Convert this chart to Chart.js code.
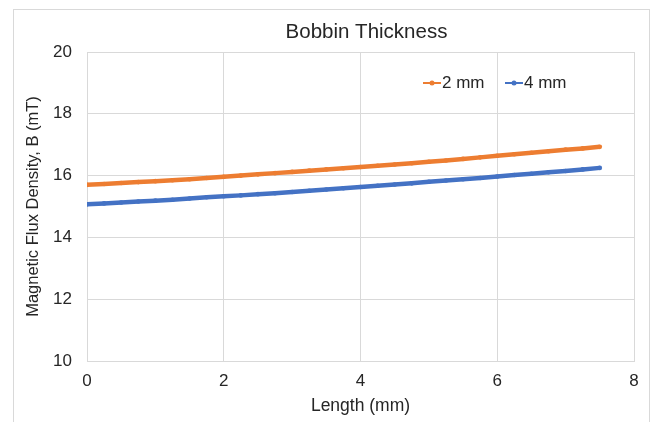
<!DOCTYPE html>
<html>
<head>
<meta charset="utf-8">
<script src="https://cdn.jsdelivr.net/npm/chart.js@4/dist/chart.umd.min.js"></script>
<style>
  html, body { margin: 0; padding: 0; background: #fff; }
  #wrap { width: 653px; height: 422px; position: relative; }
</style>
</head>
<body>
<div id="wrap"><canvas id="c" width="653" height="422"></canvas></div>
<script>
const chartTitle = "Bobbin Thickness";
const xTitle = "Length (mm)";
const yTitle = "Magnetic Flux Density, B (mT)";
const seriesNames = ["2 mm", "4 mm"];
const seriesColors = ["#ED7D31", "#4472C4"];
const lengths = [0, 0.25, 0.5, 0.75, 1, 1.25, 1.5, 1.75, 2, 2.25, 2.5, 2.75, 3, 3.25, 3.5, 3.75,
                 4, 4.25, 4.5, 4.75, 5, 5.25, 5.5, 5.75, 6, 6.25, 6.5, 6.75, 7, 7.25, 7.5];
const flux2mm = [15.70, 15.73, 15.76, 15.79, 15.82, 15.85, 15.88, 15.92, 15.96, 16.00, 16.04, 16.08,
                 16.12, 16.16, 16.20, 16.24, 16.28, 16.32, 16.36, 16.40, 16.45, 16.49, 16.54, 16.59,
                 16.64, 16.69, 16.74, 16.79, 16.84, 16.88, 16.93];
const flux4mm = [15.07, 15.10, 15.13, 15.16, 15.19, 15.22, 15.26, 15.30, 15.33, 15.36, 15.40, 15.43,
                 15.47, 15.51, 15.55, 15.59, 15.63, 15.67, 15.71, 15.75, 15.80, 15.84, 15.88, 15.92,
                 15.97, 16.02, 16.06, 16.11, 16.15, 16.20, 16.25];
const xTicks = [0, 2, 4, 6, 8];
const yTicks = [10, 12, 14, 16, 18, 20];

const FONT = "'Liberation Sans', Arial, sans-serif";
const TXT = "#262626";

const toPts = (xs, ys) => xs.map((x, i) => ({ x: x, y: ys[i] }));

const decor = {
  id: 'decor',
  beforeDraw(chart) {
    const ctx = chart.ctx;
    ctx.save();
    ctx.fillStyle = '#fff';
    ctx.fillRect(0, 0, chart.width, chart.height);
    ctx.strokeStyle = '#d9d9d9';
    ctx.lineWidth = 1;
    ctx.strokeRect(13.5, 9.5, 636, 440);
    ctx.restore();
  },
  afterDraw(chart) {
    const ctx = chart.ctx;
    ctx.save();
    ctx.fillStyle = TXT;
    ctx.font = "20.5px " + FONT;
    ctx.textAlign = 'center';
    ctx.textBaseline = 'middle';
    ctx.fillText(chartTitle, 366.5, 32);
    // legend
    ctx.font = "17px " + FONT;
    ctx.textAlign = 'left';
    const items = [{ x: 423, i: 0 }, { x: 505, i: 1 }];
    items.forEach(it => {
      const c = seriesColors[it.i];
      ctx.strokeStyle = c;
      ctx.lineWidth = 2;
      ctx.beginPath();
      ctx.moveTo(it.x, 83);
      ctx.lineTo(it.x + 18, 83);
      ctx.stroke();
      ctx.fillStyle = c;
      ctx.beginPath();
      ctx.arc(it.x + 9, 83, 2.5, 0, Math.PI * 2);
      ctx.fill();
      ctx.fillStyle = TXT;
      ctx.fillText(seriesNames[it.i], it.x + 19, 83);
    });
    ctx.restore();
  }
};

new Chart(document.getElementById('c'), {
  type: 'scatter',
  data: {
    datasets: [
      { label: seriesNames[0], data: toPts(lengths, flux2mm), showLine: true,
        borderColor: seriesColors[0], backgroundColor: seriesColors[0],
        borderWidth: 4.5, pointRadius: 2.3, pointBorderWidth: 0, tension: 0 },
      { label: seriesNames[1], data: toPts(lengths, flux4mm), showLine: true,
        borderColor: seriesColors[1], backgroundColor: seriesColors[1],
        borderWidth: 4.5, pointRadius: 2.3, pointBorderWidth: 0, tension: 0 }
    ]
  },
  options: {
    responsive: false,
    animation: false,
    layout: { padding: { left: 0, right: 19, top: 52, bottom: 0 } },
    plugins: { legend: { display: false }, title: { display: false }, tooltip: { enabled: false } },
    scales: {
      x: {
        type: 'linear', min: 0, max: 8,
        afterBuildTicks: s => { s.ticks = xTicks.map(v => ({ value: v })); },
        afterFit: s => { s.height = 61; },
        grid: { color: '#d9d9d9', drawTicks: false, lineWidth: 1 },
        border: { color: '#d9d9d9' },
        ticks: { color: TXT, font: { family: FONT, size: 17 }, padding: 10 },
        title: { display: true, text: xTitle, color: TXT, font: { family: FONT, size: 17.5 }, padding: { top: 0, bottom: 5 } }
      },
      y: {
        type: 'linear', min: 10, max: 20,
        afterBuildTicks: s => { s.ticks = yTicks.map(v => ({ value: v })); },
        afterFit: s => { s.width = 87; },
        grid: { color: '#d9d9d9', drawTicks: false, lineWidth: 1 },
        border: { color: '#d9d9d9' },
        ticks: { color: TXT, font: { family: FONT, size: 17 }, padding: 15 },
        title: { display: true, text: yTitle, color: TXT, font: { family: FONT, size: 16.5 }, padding: { top: 24, bottom: 0 } }
      }
    }
  },
  plugins: [decor]
});
</script>
</body>
</html>
